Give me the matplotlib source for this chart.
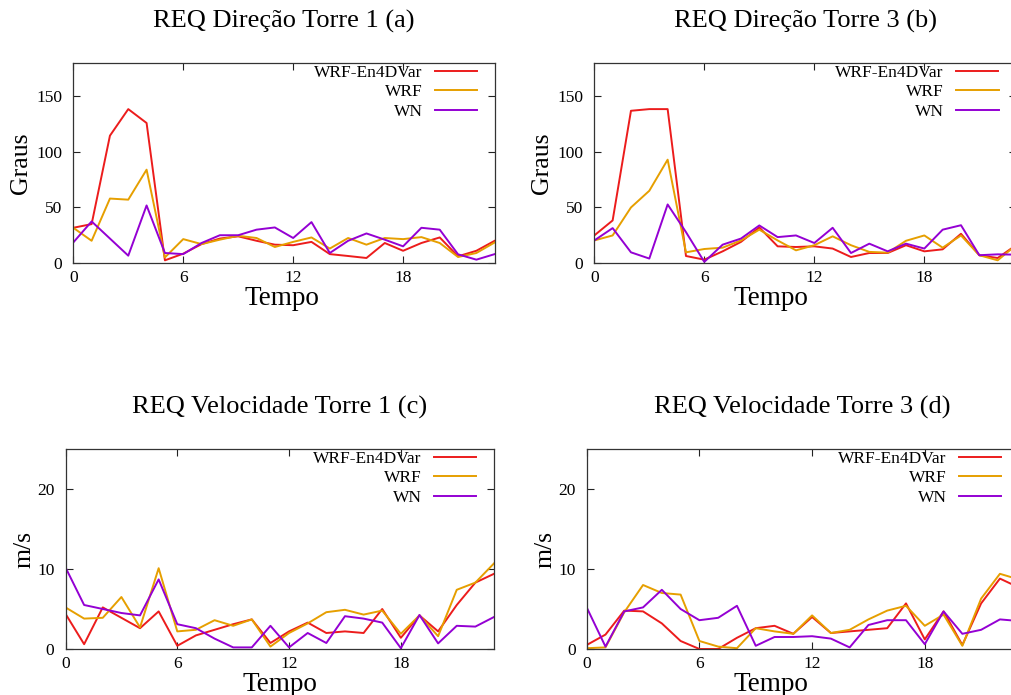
import numpy as np
import matplotlib
matplotlib.use('Agg')
import matplotlib.pyplot as plt

plt.rcParams['font.family'] = ['Liberation Serif', 'DejaVu Serif']

W, H = 1012, 695

hours = list(range(24))
series_names = ['WRF-En4DVar', 'WRF', 'WN']
colors = ['#ec1c1c', '#e69f00', '#9400d3']

# direcao torre 1 (a)
dir1_en4dvar = [31.7, 35, 114.6, 138.5, 126, 2.4, 8.4, 17, 22, 24, 20, 16.5,
                16, 19, 8, 6.3, 4.5, 18, 11, 18, 23, 6, 11, 20]
dir1_wrf = [31.7, 20, 58, 57, 84, 5, 21.5, 17, 21, 24.5, 22.5, 14.4,
            19, 23, 13, 22.5, 16.5, 22.5, 21.5, 23.3, 18, 5.4, 9, 18.5]
dir1_wn = [18.5, 37.4, 22, 6.6, 51.8, 9, 8, 18, 25, 25, 30, 32,
           22.5, 36.8, 9, 20, 26.6, 21, 15, 31.7, 30, 7.8, 3, 8]

# direcao torre 3 (b)
dir3_en4dvar = [24.8, 38.3, 137, 138.5, 138.5, 6.3, 3, 10.5, 19, 32, 15, 14.4,
                15, 13, 5.4, 9, 9, 16, 10.5, 12.3, 26.3, 7, 4.5, 16]
dir3_wrf = [20.3, 24.8, 50, 65, 93, 9.6, 12.6, 13.8, 20.3, 30, 20.3, 11.4,
            16, 24, 16, 10, 9.3, 20, 24.8, 13.8, 24.8, 7, 2.4, 16]
dir3_wn = [20.3, 31.4, 9.6, 4, 52.7, 27.8, 1, 16.5, 22, 33.8, 23.3, 24.8,
           18, 31.7, 9, 17.4, 10.5, 17.4, 13, 30, 34, 7, 7.8, 7.5]

# velocidade torre 1 (c)
vel1_en4dvar = [4.4, 0.6, 5.2, 3.9, 2.6, 4.7, 0.4, 1.7, 2.4, 3.1, 3.7, 0.75,
                2.2, 3.3, 2, 2.2, 2, 5, 1.4, 4.2, 2.2, 5.5, 8.3, 9.4]
vel1_wrf = [5.2, 3.8, 3.9, 6.5, 2.7, 10.1, 2.2, 2.4, 3.6, 2.9, 3.7, 0.3,
            2, 3.2, 4.6, 4.9, 4.3, 4.8, 1.9, 4.2, 1.6, 7.4, 8.3, 10.7]
vel1_wn = [10.2, 5.5, 5, 4.5, 4.2, 8.7, 3.1, 2.6, 1.3, 0.2, 0.2, 2.9,
           0.2, 2, 0.75, 4.1, 3.8, 3.3, 0.1, 4.25, 0.7, 2.9, 2.8, 4]

# velocidade torre 3 (d)
vel3_en4dvar = [0.5, 1.8, 4.8, 4.7, 3.2, 1, 0, 0, 1.4, 2.6, 2.9, 1.9,
                4, 2, 2.2, 2.4, 2.6, 5.7, 1.2, 4.7, 0.5, 5.7, 8.8, 7.7]
vel3_wrf = [0.1, 0.2, 4.6, 8, 7, 6.8, 1, 0.3, 0.1, 2.6, 2.2, 1.9,
            4.2, 2, 2.4, 3.7, 4.8, 5.4, 2.9, 4.3, 0.4, 6.3, 9.4, 8.7]
vel3_wn = [5.2, 0.3, 4.7, 5.2, 7.4, 5, 3.6, 3.9, 5.4, 0.4, 1.5, 1.5,
           1.6, 1.3, 0.2, 3, 3.6, 3.6, 0.6, 4.7, 1.9, 2.4, 3.7, 3.5]

xticks = [0, 6, 12, 18]


def add_px_axes(fig, left, top, right, bottom):
    return fig.add_axes([left / W, 1 - bottom / H, (right - left) / W, (bottom - top) / H])


def draw_panel(ax, box, data, title, ylabel, ylim, yticks, xlabel_x, ylabel_off):
    left, top, right, bottom = box
    wpx = right - left
    hpx = bottom - top
    for vals, name, c in zip(data, series_names, colors):
        ax.plot(hours, vals, color=c, lw=1.4, label=name)
    ax.set_xlim(0, 23)
    ax.set_ylim(*ylim)
    ax.set_xticks(xticks)
    ax.set_yticks(yticks)
    ax.tick_params(direction='in', top=True, right=True, length=5, width=0.8,
                   labelsize=12.5, color='#222222')
    ax.tick_params(axis='x', pad=5)
    ax.tick_params(axis='y', pad=8)
    for s in ax.spines.values():
        s.set_linewidth(0.9)
        s.set_color('#333333')
    ax.set_title(title, fontsize=19, pad=25.5)
    ax.set_xlabel('Tempo', fontsize=19.5)
    ax.xaxis.set_label_coords(xlabel_x, -23 / hpx)
    ax.set_ylabel(ylabel, fontsize=18.5)
    ax.yaxis.set_label_coords(-ylabel_off / wpx, 0.5)
    anchor_x = (wpx - 17.5) / wpx
    leg = ax.legend(loc='upper right', bbox_to_anchor=(anchor_x, 1 - 1.5 / hpx),
                    frameon=False, markerfirst=False, fontsize=12.5,
                    handlelength=2.45, handletextpad=0.7, labelspacing=0.21,
                    borderpad=0, borderaxespad=0)
    return leg


fig = plt.figure(figsize=(W / 100, H / 100), dpi=100)

box_a = (73.3, 63, 494.7, 263)
box_b = (594.3, 63, 1016, 263)
box_c = (65.5, 449, 494, 649)
box_d = (586.7, 449, 1018.7, 649)

ax_a = add_px_axes(fig, *box_a)
draw_panel(ax_a, box_a, [dir1_en4dvar, dir1_wrf, dir1_wn], 'REQ Direção Torre 1 (a)',
           'Graus', (0, 180), [0, 50, 100, 150], 0.495, 41)

ax_b = add_px_axes(fig, *box_b)
draw_panel(ax_b, box_b, [dir3_en4dvar, dir3_wrf, dir3_wn], 'REQ Direção Torre 3 (b)',
           'Graus', (0, 180), [0, 50, 100, 150], 0.419, 41)

ax_c = add_px_axes(fig, *box_c)
draw_panel(ax_c, box_c, [vel1_en4dvar, vel1_wrf, vel1_wn], 'REQ Velocidade Torre 1 (c)',
           'm/s', (0, 25), [0, 10, 20], 0.5, 30)

ax_d = add_px_axes(fig, *box_d)
draw_panel(ax_d, box_d, [vel3_en4dvar, vel3_wrf, vel3_wn], 'REQ Velocidade Torre 3 (d)',
           'm/s', (0, 25), [0, 10, 20], 0.427, 30)

fig.savefig('out.png', dpi=100)
